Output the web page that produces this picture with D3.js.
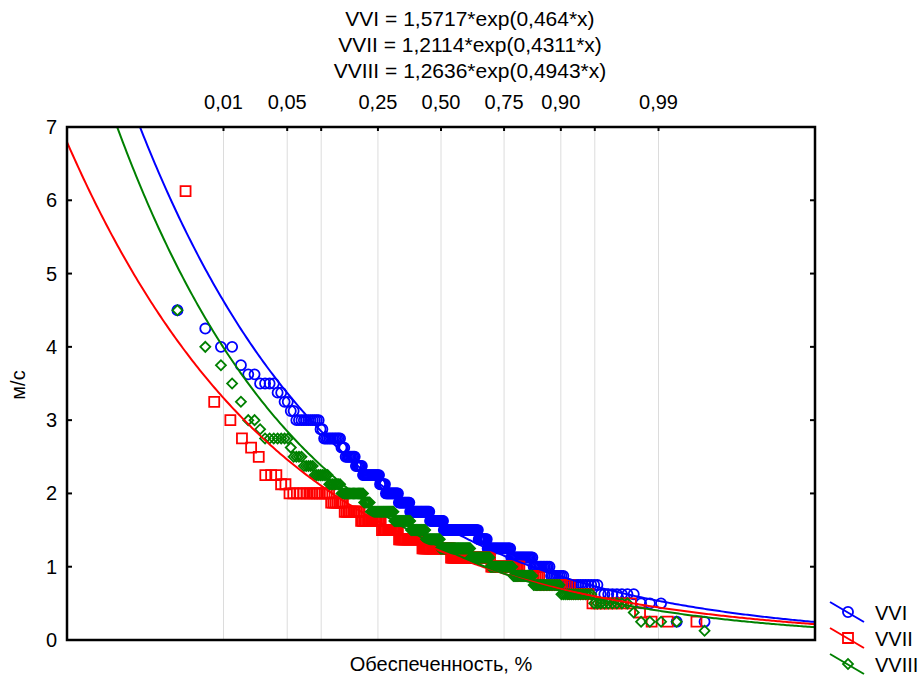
<!DOCTYPE html>
<html><head><meta charset="utf-8">
<title>Обеспеченность скорости</title>
<script src="https://cdnjs.cloudflare.com/ajax/libs/d3/7.8.5/d3.min.js"></script>
<style>
  body { margin: 0; background: #fff; }
  svg text { font-family: "Liberation Sans", Arial, sans-serif; fill: #000; }
</style>
</head>
<body>
<svg width="924" height="677"></svg>
<script>
// series, colours and fitted curves  y = a*exp(b*x)
const series = ["VVI", "VVII", "VVIII"];
const colors = ["#0000ff", "#ff0000", "#008000"];
const fitA = [1.5717, 1.2114, 1.2636];
const fitB = [0.464, 0.4311, 0.4943];
const titleLines = ["VVI = 1,5717*exp(0,464*x)", "VVII = 1,2114*exp(0,4311*x)", "VVIII = 1,2636*exp(0,4943*x)"];

// observed values (m/s), descending, with the number of times each occurs
const vviValues = [4.5, 4.25, 4.0, 3.75, 3.625, 3.5, 3.375, 3.25, 3.125, 3.0, 2.875, 2.75, 2.625, 2.5, 2.375, 2.25, 2.125, 2.0, 1.875, 1.75, 1.625, 1.5, 1.375, 1.25, 1.125, 1.0, 0.875, 0.75, 0.625, 0.5, 0.25];
const vviCounts = [1, 1, 2, 1, 2, 4, 2, 2, 2, 11, 2, 11, 3, 8, 6, 16, 6, 14, 13, 24, 17, 42, 10, 24, 19, 12, 8, 14, 8, 3, 2];

const vviiValues = [6.125, 3.25, 3.0, 2.75, 2.625, 2.5, 2.25, 2.125, 2.0, 1.875, 1.75, 1.625, 1.5, 1.375, 1.25, 1.125, 1.0, 0.875, 0.75, 0.625, 0.5, 0.375, 0.25];
const vviiCounts = [1, 1, 1, 1, 1, 1, 3, 2, 15, 7, 10, 15, 14, 21, 27, 36, 22, 12, 14, 6, 8, 1, 3];

const vviiiValues = [4.5, 4.0, 3.75, 3.5, 3.25, 3.0, 2.875, 2.75, 2.625, 2.5, 2.375, 2.25, 2.125, 2.0, 1.875, 1.75, 1.625, 1.5, 1.375, 1.25, 1.125, 1.0, 0.875, 0.75, 0.625, 0.5, 0.375, 0.25, 0.125];
const vviiiCounts = [1, 1, 1, 1, 1, 2, 1, 7, 1, 4, 5, 8, 8, 18, 6, 24, 19, 18, 18, 37, 22, 23, 17, 18, 14, 9, 1, 4, 1];

// probability axis (top) and value axis
const probGrid = [0.01, 0.05, 0.10, 0.25, 0.50, 0.75, 0.90, 0.95, 0.99];
const probLabels = [0.01, 0.05, 0.25, 0.50, 0.75, 0.90, 0.99];
const yTicks = [0, 1, 2, 3, 4, 5, 6, 7];

// inverse standard normal (Acklam)
function normInv(p) {
  const a = [-39.69683028665376, 220.9460984245205, -275.9285104469687, 138.3577518672690, -30.66479806614716, 2.506628277459239];
  const b = [-54.47609879822406, 161.5858368580409, -155.6989798598866, 66.80131188771972, -13.28068155288572];
  const c = [-0.007784894002430293, -0.3223964580411365, -2.400758277161838, -2.549732539343734, 4.374664141464968, 2.938163982698783];
  const d = [0.007784695709041462, 0.3224671290700398, 2.445134137142996, 3.754408661907416];
  const pl = 0.02425;
  let q, r;
  if (p < pl) {
    q = Math.sqrt(-2 * Math.log(p));
    return (((((c[0]*q+c[1])*q+c[2])*q+c[3])*q+c[4])*q+c[5]) / ((((d[0]*q+d[1])*q+d[2])*q+d[3])*q+1);
  }
  if (p > 1 - pl) {
    q = Math.sqrt(-2 * Math.log(1 - p));
    return -(((((c[0]*q+c[1])*q+c[2])*q+c[3])*q+c[4])*q+c[5]) / ((((d[0]*q+d[1])*q+d[2])*q+d[3])*q+1);
  }
  q = p - 0.5; r = q * q;
  return (((((a[0]*r+a[1])*r+a[2])*r+a[3])*r+a[4])*r+a[5])*q / (((((b[0]*r+b[1])*r+b[2])*r+b[3])*r+b[4])*r+1);
}
// exceedance probability -> x of the fit
const probToX = p => normInv(1 - p);

// expand value/count lists, place each point at its Chegodaev plotting position
function points(values, counts) {
  const v = [];
  values.forEach((d, i) => { for (let k = 0; k < counts[i]; k++) v.push(d); });
  const n = v.length;
  return v.map((d, i) => ({ x: probToX((i + 1 - 0.3) / (n + 0.4)), y: d }));
}
const data = [points(vviValues, vviCounts), points(vviiValues, vviiCounts), points(vviiiValues, vviiiCounts)];

const plot = { left: 67, right: 815, top: 127, bottom: 640 };
const svg = d3.select("svg");

const x = d3.scaleLinear().domain([4, -4]).range([plot.left, plot.right]);
const y = d3.scaleLinear().domain([0, 7]).range([plot.bottom, plot.top]);
const locale = d3.formatLocale({ decimal: ",", thousands: " ", grouping: [3], currency: ["", ""] });
const fmt = locale.format(".2f");

svg.append("clipPath").attr("id", "clip")
  .append("rect").attr("x", plot.left).attr("y", plot.top)
  .attr("width", plot.right - plot.left).attr("height", plot.bottom - plot.top);

// grid
svg.append("g").selectAll("line").data(probGrid).join("line")
  .attr("x1", d => x(probToX(d))).attr("x2", d => x(probToX(d)))
  .attr("y1", plot.top).attr("y2", plot.bottom)
  .attr("stroke", "#dcdcdc").attr("stroke-width", 1);

// title
svg.append("g").selectAll("text").data(titleLines).join("text")
  .attr("x", 470).attr("y", (d, i) => 26 + i * 26)
  .attr("text-anchor", "middle").style("font-size", "21px")
  .text(d => d);

// top probability labels
svg.append("g").selectAll("text").data(probLabels).join("text")
  .attr("x", d => x(probToX(d))).attr("y", 109)
  .attr("text-anchor", "middle").style("font-size", "20px")
  .text(d => fmt(d));

// markers: circle, square, square turned 45 degrees
const sym = [d3.symbolCircle, d3.symbolSquare, d3.symbolSquare];
const symSize = [80, 100, 50];
const symRot = [0, 0, 45];

const layer = svg.append("g").attr("clip-path", "url(#clip)");
data.forEach((pts, i) => {
  layer.append("g").selectAll("path").data(pts).join("path")
    .attr("transform", d => `translate(${x(d.x)},${y(d.y)}) rotate(${symRot[i]})`)
    .attr("d", d3.symbol().type(sym[i]).size(symSize[i]))
    .attr("fill", "none").attr("stroke", colors[i]).attr("stroke-width", 1.8);
});

// fitted curves
const xs = d3.range(-4, 4.0001, 0.02);
const line = d3.line().x(d => x(d[0])).y(d => y(d[1]));
series.forEach((s, i) => {
  layer.append("path")
    .attr("d", line(xs.map(v => [v, fitA[i] * Math.exp(fitB[i] * v)])))
    .attr("fill", "none").attr("stroke", colors[i]).attr("stroke-width", 2);
});

// frame and ticks
svg.append("rect").attr("x", plot.left).attr("y", plot.top)
  .attr("width", plot.right - plot.left).attr("height", plot.bottom - plot.top)
  .attr("fill", "none").attr("stroke", "#000").attr("stroke-width", 2.5);
const ticks = svg.append("g").attr("stroke", "#000").attr("stroke-width", 2);
ticks.selectAll(".yl").data(yTicks).join("line").attr("class", "yl")
  .attr("x1", plot.left).attr("x2", plot.left + 5).attr("y1", d => y(d)).attr("y2", d => y(d));
ticks.selectAll(".yr").data(yTicks).join("line").attr("class", "yr")
  .attr("x1", plot.right - 5).attr("x2", plot.right).attr("y1", d => y(d)).attr("y2", d => y(d));
ticks.selectAll(".xt").data(probGrid).join("line").attr("class", "xt")
  .attr("x1", d => x(probToX(d))).attr("x2", d => x(probToX(d)))
  .attr("y1", plot.top).attr("y2", plot.top + 4);

// y tick labels
svg.append("g").selectAll("text").data(yTicks).join("text")
  .attr("x", 57).attr("y", d => y(d) + 7)
  .attr("text-anchor", "end").style("font-size", "20px")
  .text(d => d);

// axis titles
svg.append("text").attr("x", 441).attr("y", 671)
  .attr("text-anchor", "middle").style("font-size", "20px")
  .text("Обеспеченность, %");
svg.append("text").attr("transform", "translate(25,385) rotate(-90)")
  .attr("text-anchor", "middle").style("font-size", "20px")
  .text("м/с");

// legend
const leg = svg.append("g").selectAll("g").data(series).join("g")
  .attr("transform", (d, i) => `translate(0,${i * 26})`);
leg.append("line").attr("x1", 830).attr("y1", 602).attr("x2", 864).attr("y2", 622)
  .attr("stroke", (d, i) => colors[i]).attr("stroke-width", 2);
leg.append("path")
  .attr("transform", (d, i) => `translate(848,612) rotate(${symRot[i]})`)
  .attr("d", (d, i) => d3.symbol().type(sym[i]).size(symSize[i])())
  .attr("fill", "none").attr("stroke", (d, i) => colors[i]).attr("stroke-width", 1.8);
leg.append("text").attr("x", 875).attr("y", 620).style("font-size", "20px")
  .text(d => d);
</script>
</body></html>
